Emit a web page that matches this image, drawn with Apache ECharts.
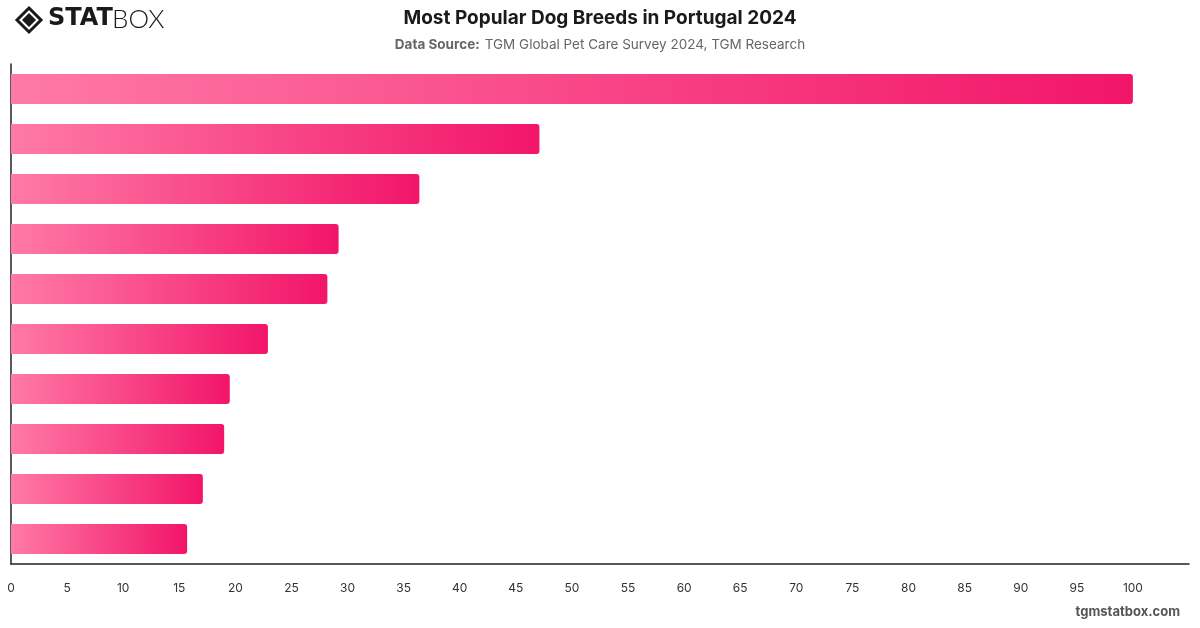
<!DOCTYPE html>
<html>
<head>
<meta charset="utf-8">
<title>Most Popular Dog Breeds in Portugal 2024</title>
<script src="https://cdn.jsdelivr.net/npm/echarts@6/dist/echarts.min.js"></script>
<style>
  html, body { margin: 0; padding: 0; background: #fff; }
  #chart { width: 1200px; height: 628px; }
</style>
</head>
<body>
<div id="chart"></div>
<script>
  // breeds, top to bottom (labels are hidden in the original)
  var breeds = ['Mixed Breed', 'Labrador Retriever', 'German Shepherd', 'Chihuahua', 'Yorkshire Terrier',
                'Golden Retriever', 'French Bulldog', 'Poodle', 'Beagle', 'Shih Tzu'];
  var shares = [100, 47.1, 36.4, 29.2, 28.2, 22.9, 19.5, 19.0, 17.1, 15.7];
  var xTicks = [0, 5, 10, 15, 20, 25, 30, 35, 40, 45, 50, 55, 60, 65, 70, 75, 80, 85, 90, 95, 100];

  var chart = echarts.init(document.getElementById('chart'));

  var barColor = new echarts.graphic.LinearGradient(0, 0, 1, 0, [
      { offset: 0, color: '#ff7aa6' },
      { offset: 1, color: '#f2156a' }
  ]);

  var option = {
      animation: false,
      title: [{
          text: 'Most Popular Dog Breeds in Portugal 2024',
          left: 'center',
          top: 4,
          textStyle: { fontFamily: 'Inter', fontSize: 19, fontWeight: 'bold', color: '#1a1a1a' }
      }, {
          text: '{b|Data Source:} {n|TGM Global Pet Care Survey 2024, TGM Research}',
          left: 'center',
          top: 31,
          textStyle: {
              fontWeight: 'normal',
              rich: {
                  b: { fontFamily: 'Inter', fontSize: 13.5, fontWeight: 'bold', color: '#666' },
                  n: { fontFamily: 'Inter', fontSize: 13.5, fontWeight: 'normal', color: '#666' }
              }
          }
      }],
      grid: { left: 11, right: 11, top: 64, bottom: 64, containLabel: false },
      xAxis: {
          type: 'value',
          min: 0,
          max: 105,
          interval: 5,
          splitLine: { show: false },
          axisLine: { show: true, lineStyle: { color: '#222', width: 1.5 } },
          axisTick: { show: false },
          axisLabel: {
              color: '#333',
              fontFamily: 'Inter',
              fontSize: 12,
              margin: 18,
              formatter: function (v) { return xTicks.indexOf(v) >= 0 ? String(v) : ''; }
          }
      },
      yAxis: {
          type: 'category',
          data: breeds,
          inverse: true,
          axisLine: { show: true, lineStyle: { color: '#222', width: 1.5 } },
          axisTick: { show: false },
          axisLabel: { show: false }
      },
      series: [{
          type: 'bar',
          data: shares,
          barWidth: 30,
          itemStyle: { color: barColor, borderRadius: [0, 3, 3, 0] }
      }],
      graphic: [
          // logo
          { type: 'polygon', shape: { points: [[29, 8], [41, 20], [29, 32], [17, 20]] },
            style: { fill: 'none', stroke: '#1a1a1a', lineWidth: 3 } },
          { type: 'polygon', shape: { points: [[29, 13], [36, 20], [29, 27], [22, 20]] },
            style: { fill: '#1a1a1a' } },
          { type: 'text', left: 48, top: 7,
            style: { text: 'STAT', fontFamily: 'DejaVu Sans', fontSize: 24, fontWeight: 'bold', fill: '#1a1a1a' } },
          { type: 'text', left: 112, top: 7,
            style: { text: 'BOX', fontFamily: 'Lato', fontSize: 26, fontWeight: 300, fill: '#1a1a1a' } },
          // footer
          { type: 'text', right: 20, top: 606,
            style: { text: 'tgmstatbox.com', fontFamily: 'Inter', fontSize: 13, fontWeight: 'bold', fill: '#555' } }
      ]
  };

  chart.setOption(option);
</script>
</body>
</html>
